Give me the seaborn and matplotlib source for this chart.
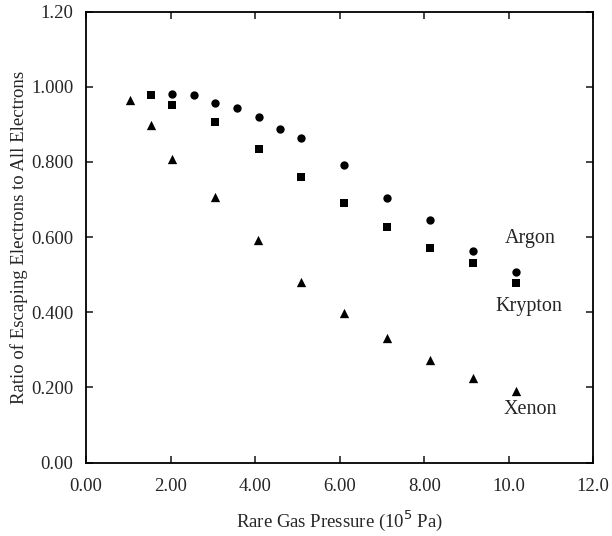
import matplotlib
matplotlib.use('Agg')
import matplotlib.pyplot as plt
import seaborn as sns
import pandas as pd

# data
argon_x = [2.04, 2.56, 3.06, 3.57, 4.09, 4.58, 5.08, 6.11, 7.12, 8.13, 9.15, 10.18]
argon_y = [0.980, 0.978, 0.956, 0.944, 0.920, 0.888, 0.863, 0.793, 0.703, 0.645, 0.564, 0.507]

krypton_x = [1.54, 2.04, 3.06, 4.09, 5.08, 6.11, 7.12, 8.13, 9.15, 10.18]
krypton_y = [0.979, 0.951, 0.906, 0.833, 0.759, 0.690, 0.626, 0.572, 0.531, 0.477]

xenon_x = [1.04, 1.54, 2.04, 3.06, 4.08, 5.08, 6.11, 7.12, 8.13, 9.15, 10.18]
xenon_y = [0.964, 0.898, 0.807, 0.707, 0.593, 0.481, 0.399, 0.331, 0.272, 0.224, 0.191]

gas_labels = ['Argon', 'Krypton', 'Xenon']
label_pos = [(10.5, 0.596), (10.47, 0.414), (10.5, 0.140)]

x_ticks = [0, 2, 4, 6, 8, 10, 12]
x_ticklabels = ['0.00', '2.00', '4.00', '6.00', '8.00', '10.0', '12.0']
y_ticks = [0, 0.2, 0.4, 0.6, 0.8, 1.0, 1.2]
y_ticklabels = ['0.00', '0.200', '0.400', '0.600', '0.800', '1.000', '1.20']

df = pd.concat([
    pd.DataFrame({'p': argon_x, 'ratio': argon_y, 'gas': 'Argon'}),
    pd.DataFrame({'p': krypton_x, 'ratio': krypton_y, 'gas': 'Krypton'}),
    pd.DataFrame({'p': xenon_x, 'ratio': xenon_y, 'gas': 'Xenon'}),
])

sns.set_style('ticks')
plt.rcParams['font.family'] = ['Liberation Serif', 'DejaVu Serif']

fig = plt.figure(figsize=(6.12, 5.36), dpi=100)
ax = fig.add_axes([0.1405, 0.137, 0.829, 0.8415])

sizes = {'Argon': 36, 'Krypton': 32, 'Xenon': 45}
markers = {'Argon': 'o', 'Krypton': 's', 'Xenon': '^'}
for g in gas_labels:
    sub = df[df['gas'] == g]
    sns.scatterplot(data=sub, x='p', y='ratio', marker=markers[g], s=sizes[g],
                    color='black', edgecolor='black', linewidth=0, ax=ax, legend=False)

for name, (tx, ty) in zip(gas_labels, label_pos):
    ax.text(tx, ty, name, ha='center', va='center', fontsize=14.5)

ax.set_xlim(0, 12)
ax.set_ylim(0, 1.2)
ax.set_xticks(x_ticks)
ax.set_xticklabels(x_ticklabels)
ax.set_yticks(y_ticks)
ax.set_yticklabels(y_ticklabels)
ax.tick_params(direction='in', top=True, right=True, length=5, width=1.2,
               labelsize=13.5)
ax.tick_params(axis='x', pad=11)
ax.tick_params(axis='y', pad=9)
for sp in ax.spines.values():
    sp.set_linewidth(1.3)
    sp.set_color('black')

ax.set_xlabel('Rare Gas Pressure (10$^5$ Pa)', fontsize=13.5, labelpad=10)
ax.set_ylabel('Ratio of Escaping Electrons to All Electrons', fontsize=13.5, labelpad=2)

plt.savefig('out.png', dpi=100)
